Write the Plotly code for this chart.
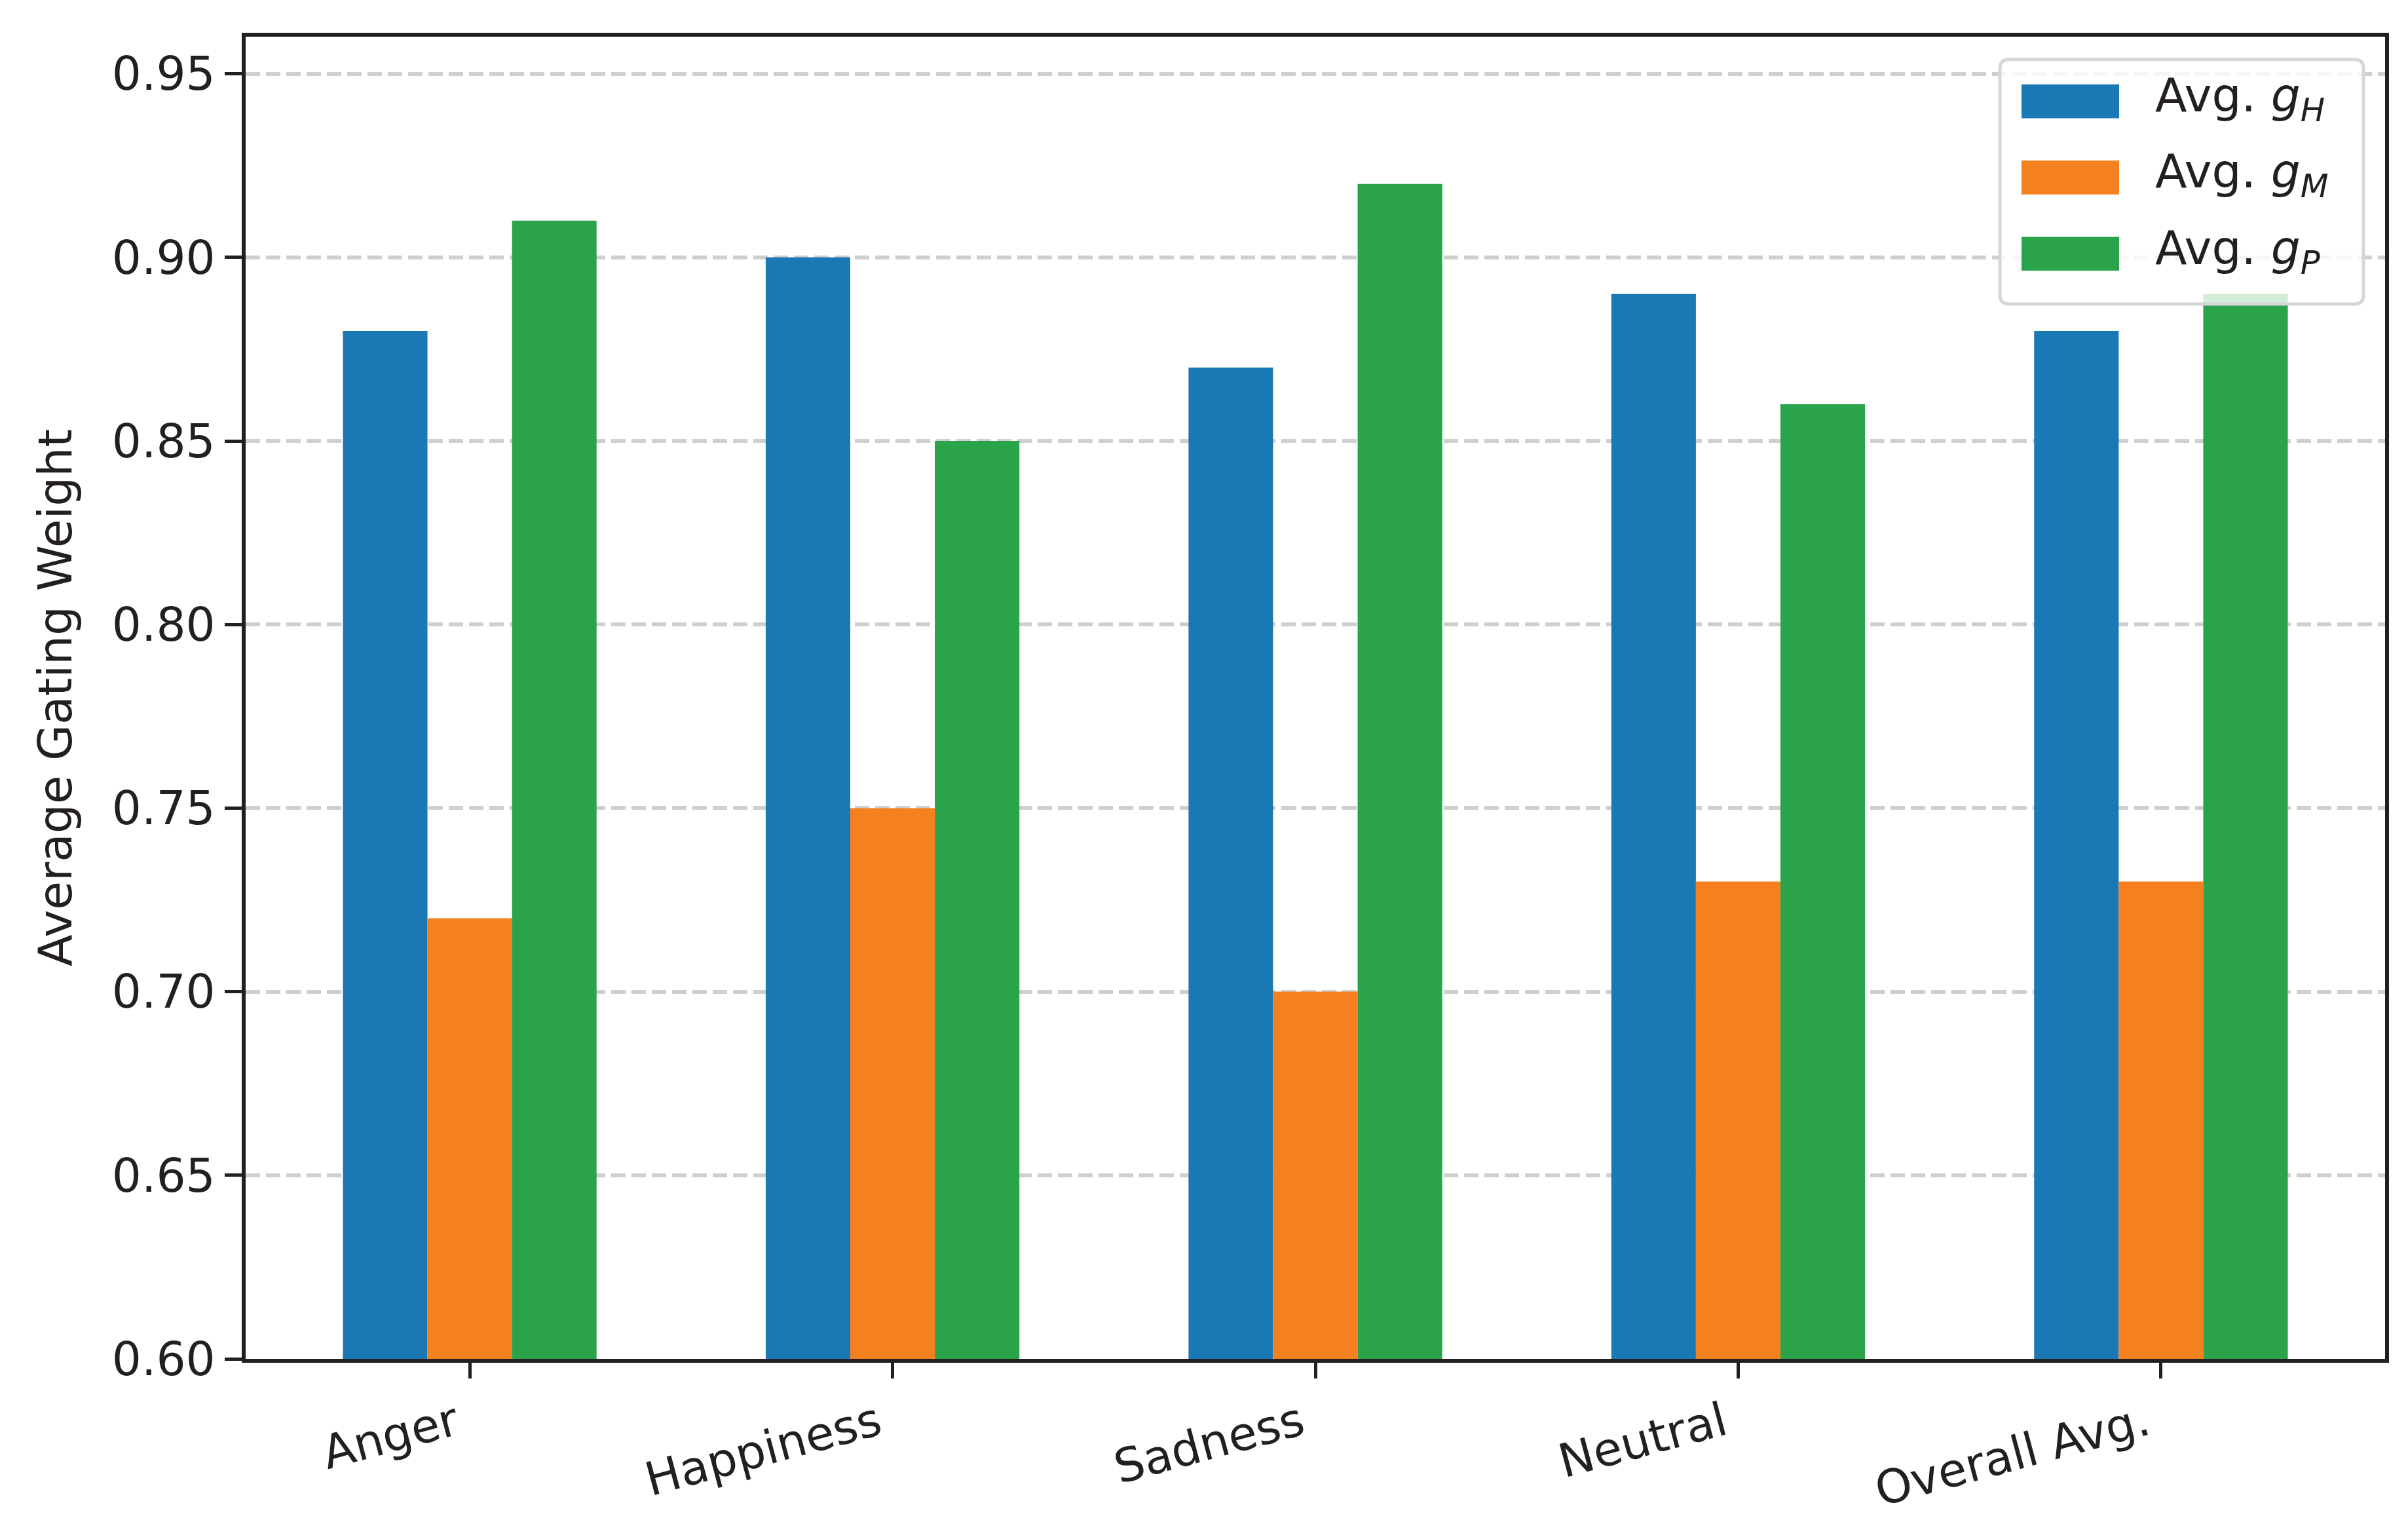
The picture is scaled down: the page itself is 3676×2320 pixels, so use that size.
import plotly.graph_objects as go

categories = ["Anger", "Happiness", "Sadness", "Neutral", "Overall Avg."]
avg_gH = [0.88, 0.90, 0.87, 0.89, 0.88]
avg_gM = [0.72, 0.75, 0.70, 0.73, 0.73]
avg_gP = [0.91, 0.85, 0.92, 0.86, 0.89]
series_names = ["Avg. <i>g</i><sub><i>H</i></sub>",
                "Avg. <i>g</i><sub><i>M</i></sub>",
                "Avg. <i>g</i><sub><i>P</i></sub>"]
y_ticks = [0.60, 0.65, 0.70, 0.75, 0.80, 0.85, 0.90, 0.95]

colors = ["#1a78b4", "#f58020", "#2aa34a"]
TXT = "#231f20"
FONT = "DejaVu Sans"
FS = 71

W, H = 3676, 2320
L, R, T, B = 367, 43, 48, 244
PW, PH = W - L - R, H - T - B

fig = go.Figure()
for vals, name, c in zip([avg_gH, avg_gM, avg_gP], series_names, colors):
    fig.add_trace(go.Bar(x=categories, y=vals, name=name, marker=dict(color=c, line=dict(width=0)),
                         showlegend=False))

fig.update_layout(
    width=W, height=H,
    margin=dict(l=L, r=R, t=T, b=B, pad=0),
    paper_bgcolor="white", plot_bgcolor="white",
    barmode="group", bargap=0.4, bargroupgap=0,
    font=dict(family=FONT, size=FS, color=TXT),
)
fig.update_xaxes(
    range=[-0.53, 4.53], showline=True, linecolor=TXT, linewidth=6, mirror=True,
    ticks="outside", ticklen=24, tickwidth=5, tickcolor=TXT, tickangle=-15,
    ticklabelshift=-22,
    showgrid=False, tickfont=dict(family=FONT, size=FS, color=TXT),
)
fig.update_yaxes(
    range=[0.60, 0.9601], showline=True, linecolor=TXT, linewidth=6, mirror=True,
    ticks="outside", ticklen=26, tickwidth=5, tickcolor=TXT,
    tickvals=y_ticks, ticktext=[f"{v:.2f}" for v in y_ticks],
    showgrid=True, gridcolor="#cfcfcf", gridwidth=6, griddash="22px,9px",
    zeroline=False, tickfont=dict(family=FONT, size=FS, color=TXT),
    title=dict(text="Average Gating Weight", font=dict(family=FONT, size=FS, color=TXT), standoff=40),
)

# legend (drawn manually to mimic the large patch swatches)
def px2x(px):
    return (px - L) / PW

def py2y(py):
    return (H - B - py) / PH

x0, x1, y0, y1 = px2x(3045), px2x(3600), py2y(458), py2y(83)
rx, ry = 14 / PW, 14 / PH
path = (f"M {x0+rx},{y0} L {x1-rx},{y0} Q {x1},{y0} {x1},{y0+ry} L {x1},{y1-ry} Q {x1},{y1} {x1-rx},{y1} "
        f"L {x0+rx},{y1} Q {x0},{y1} {x0},{y1-ry} L {x0},{y0+ry} Q {x0},{y0} {x0+rx},{y0} Z")
fig.add_shape(type="path", path=path, xref="paper", yref="paper", layer="above",
              fillcolor="rgba(255,255,255,0.8)", line=dict(color="#d6d6d6", width=5))
row_centers = [147, 264, 381]
for name, c, yc in zip(series_names, colors, row_centers):
    fig.add_shape(type="rect", xref="paper", yref="paper", layer="above",
                  x0=px2x(3078), x1=px2x(3227), y0=py2y(yc + 26), y1=py2y(yc - 26),
                  fillcolor=c, line=dict(width=0))
    fig.add_annotation(xref="paper", yref="paper", x=px2x(3280), y=py2y(yc - 4),
                       text=name, showarrow=False, xanchor="left", yanchor="middle",
                       font=dict(family=FONT, size=FS, color=TXT))

fig.write_html("out.html")
